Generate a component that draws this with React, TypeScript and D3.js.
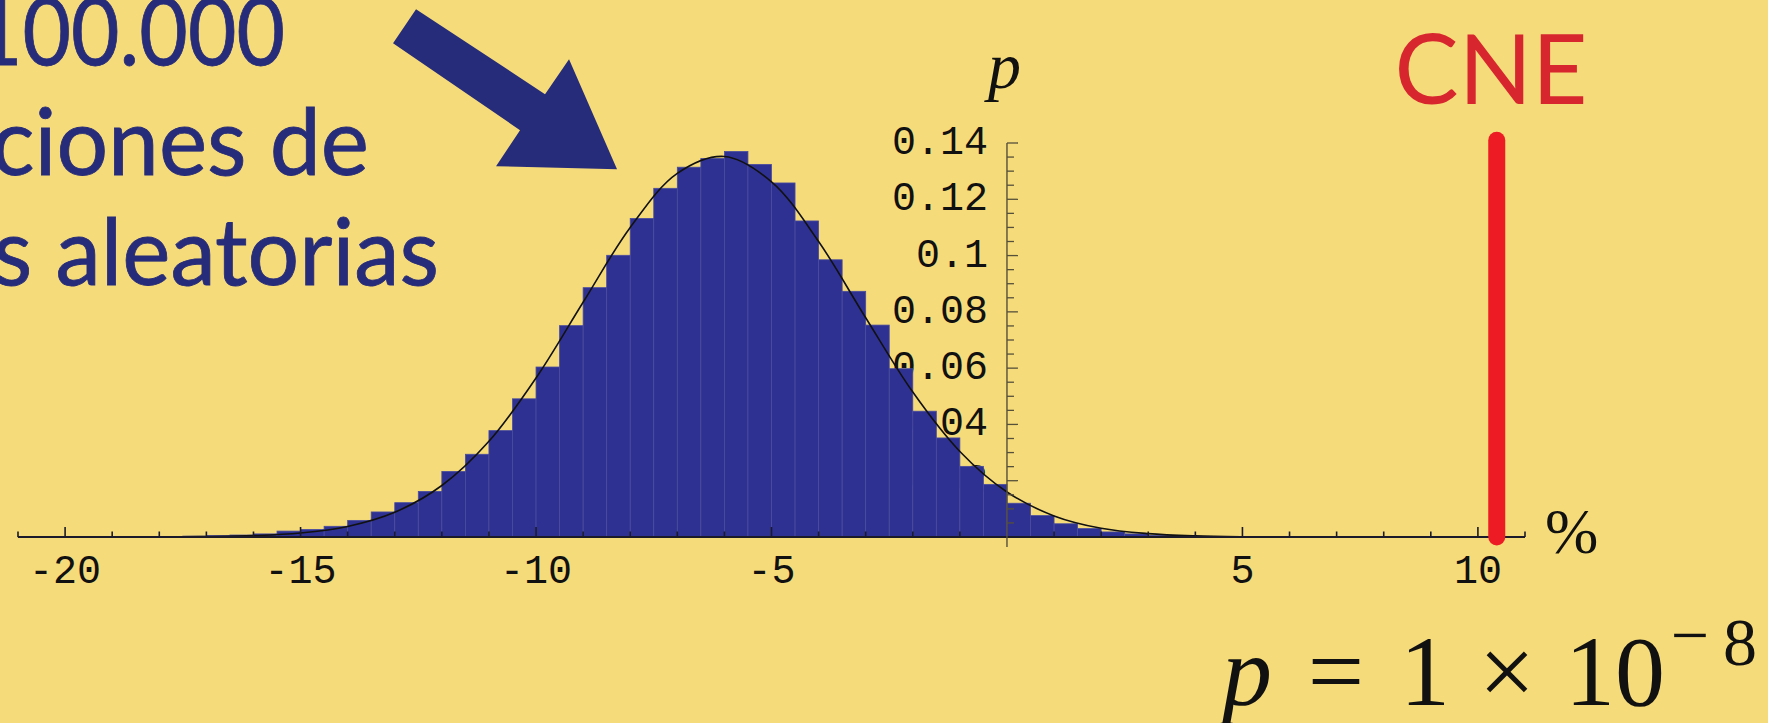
import * as d3 from "d3"
import { useEffect, useRef } from "react"

// histogram: lower edge of each 0.5-wide bin and its frequency
const binStarts = [
  -21, -20.5, -20, -19.5, -19, -18.5, -18, -17.5, -17, -16.5, -16, -15.5,
  -15, -14.5, -14, -13.5, -13, -12.5, -12, -11.5, -11, -10.5, -10, -9.5,
  -9, -8.5, -8, -7.5, -7, -6.5, -6, -5.5, -5, -4.5, -4, -3.5, -3, -2.5,
  -2, -1.5, -1, -0.5, 0, 0.5, 1, 1.5, 2, 2.5, 3, 3.5, 4, 4.5
]
const binValues = [
  0.00003, 0.00003, 0.00005, 0.00005, 0.0001, 0.0001, 0.0002, 0.0003, 0.0005, 0.0007, 0.0011, 0.0021,
  0.0027, 0.0038, 0.0059, 0.0089, 0.0122, 0.0162, 0.0233, 0.0294, 0.0378, 0.0491, 0.0604, 0.0751,
  0.0886, 0.1001, 0.1132, 0.1239, 0.1314, 0.1345, 0.137, 0.1324, 0.1258, 0.1123, 0.0985, 0.0873, 0.0753, 0.0598,
  0.0447, 0.0352, 0.0251, 0.0187, 0.012, 0.0076, 0.0047, 0.003, 0.0018, 0.0011, 0.0006, 0.0003, 0.0001, 0.00005
]

// fitted density curve
const curveX = [-21, -20, -19, -18, -17, -16, -15, -14, -13, -12, -11, -10, -9, -8, -7, -6, -5,
  -4, -3, -2, -1, 0, 1, 2, 3, 4, 5, 6, 7, 8, 9, 10, 11]
const curveY = [0, 0.000002, 0.00001, 0.00004, 0.00015, 0.00049, 0.00143, 0.00375, 0.00878, 0.0183,
  0.034, 0.0565, 0.0834, 0.11, 0.1292, 0.1352, 0.1262, 0.105, 0.0779, 0.0515, 0.0304, 0.016,
  0.0075, 0.0031, 0.0012, 0.0004, 0.0001, 0.00003, 0, 0, 0, 0, 0]

const xMajorTicks = [-20, -15, -10, -5, 5, 10]
const xTickLabels = ["-20", "-15", "-10", "-5", "5", "10"]
const xMinorTicks = [-21, -19, -18, -17, -16, -14, -13, -12, -11, -9, -8, -7, -6, -4, -3, -2, -1,
  1, 2, 3, 4, 6, 7, 8, 9, 11]
const yMajorTicks = [0.02, 0.04, 0.06, 0.08, 0.1, 0.12, 0.14]
const yTickLabels = ["0.02", "0.04", "0.06", "0.08", "0.1", "0.12", "0.14"]
const yMinorTicks = [0.005, 0.01, 0.015, 0.025, 0.03, 0.035, 0.045, 0.05, 0.055, 0.065, 0.07, 0.075,
  0.085, 0.09, 0.095, 0.105, 0.11, 0.115, 0.125, 0.13, 0.135]

// CNE result, in %
const cneValue = 10.4
const cneTop = 0.141

const titleLines = ["100.000", "simulaciones de", "encuestas aleatorias"]

export default function App() {
  const ref = useRef<SVGSVGElement>(null)

  useEffect(() => {
    const width = 1768, height = 723
    const svg = d3.select(ref.current)
    svg.selectAll("*").remove()

    const navy = "#272c7a"
    const barFill = "#2e3192"
    const mono = "'Liberation Mono', 'DejaVu Sans Mono', monospace"
    const serif = "'Liberation Serif', 'DejaVu Serif', serif"
    const sans = "Lato, 'Open Sans', sans-serif"

    const x = d3.scaleLinear().domain([-21, 11]).range([18, 1525])
    const y = d3.scaleLinear().domain([0, 0.14]).range([537, 143])

    // background
    svg.append("rect").attr("width", width).attr("height", height).attr("fill", "#f6db7a")

    // title text, cut off on the left like the slide
    // (digits are narrower than Lato's, lowercase about the same)
    const titleEnd = [285, 369, 439]
    const titleScale = [0.9, 0.98, 0.98]
    svg.append("g").selectAll("text").data(titleLines).enter().append("text")
      .attr("transform", (d, i) => "translate(" + titleEnd[i] + "," + (65 + i * 110) + ") scale(" + titleScale[i] + ",1)")
      .attr("text-anchor", "end")
      .attr("font-family", sans)
      .attr("font-size", 93)
      .attr("fill", navy)
      .attr("stroke", navy)
      .attr("stroke-width", 0.8)
      .text(d => d)

    // arrow pointing at the histogram
    const tipX = x(-8.28), tipY = y(0.1307)
    const arrow = [[-201, -160], [-72, -75], [-48, -110], [0, 0], [-121, -3], [-97, -39], [-224, -126]]
    svg.append("polygon")
      .attr("points", arrow.map(p => (tipX + p[0]) + "," + (tipY + p[1])).join(" "))
      .attr("fill", navy)

    // y tick labels sit underneath the bars
    svg.append("g").selectAll("text").data(yMajorTicks).enter().append("text")
      .attr("x", x(0) - 19)
      .attr("y", d => y(d) + 11)
      .attr("text-anchor", "end")
      .attr("font-family", mono)
      .attr("font-size", 40)
      .attr("fill", "#111")
      .text((d, i) => yTickLabels[i])

    // bars
    svg.append("g").selectAll("rect").data(binStarts).enter().append("rect")
      .attr("x", d => x(d))
      .attr("width", d => x(d + 0.5) - x(d))
      .attr("y", (d, i) => y(binValues[i]))
      .attr("height", (d, i) => y(0) - y(binValues[i]))
      .attr("fill", barFill)
      .attr("stroke", "#4a4c9e")
      .attr("stroke-width", 0.8)

    // density curve
    const line = d3.line<number>()
      .x(d => x(d))
      .y((d, i) => y(curveY[i]))
      .curve(d3.curveCatmullRom)
    svg.append("path")
      .attr("d", line(curveX))
      .attr("fill", "none")
      .attr("stroke", "#111")
      .attr("stroke-width", 1.6)

    // axes
    const axes = svg.append("g").attr("stroke", "#1a1a2a").attr("stroke-width", 1.6)
    axes.append("line")
      .attr("x1", x(-21)).attr("x2", x(11))
      .attr("y1", y(0)).attr("y2", y(0))
      .attr("stroke-width", 2.2)
    axes.append("line")
      .attr("x1", x(0)).attr("x2", x(0))
      .attr("y1", y(0) + 10).attr("y2", y(0.14))
      .attr("stroke", "#55503a")
      .attr("stroke-width", 1.4)

    axes.selectAll(".xmaj").data(xMajorTicks).enter().append("line")
      .attr("x1", d => x(d)).attr("x2", d => x(d))
      .attr("y1", y(0)).attr("y2", y(0) - 10)
    axes.selectAll(".xmin").data(xMinorTicks).enter().append("line")
      .attr("x1", d => x(d)).attr("x2", d => x(d))
      .attr("y1", y(0)).attr("y2", y(0) - 5.5)
    axes.selectAll(".ymaj").data(yMajorTicks).enter().append("line")
      .attr("x1", x(0)).attr("x2", x(0) + 11)
      .attr("y1", d => y(d)).attr("y2", d => y(d))
      .attr("stroke", "#55503a").attr("stroke-width", 1.3)
    axes.selectAll(".ymin").data(yMinorTicks).enter().append("line")
      .attr("x1", x(0)).attr("x2", x(0) + 7)
      .attr("y1", d => y(d)).attr("y2", d => y(d))
      .attr("stroke", "#55503a").attr("stroke-width", 1.3)

    svg.append("g").selectAll("text").data(xMajorTicks).enter().append("text")
      .attr("x", d => x(d))
      .attr("y", y(0) + 46)
      .attr("text-anchor", "middle")
      .attr("font-family", mono)
      .attr("font-size", 40)
      .attr("fill", "#111")
      .text((d, i) => xTickLabels[i])

    // CNE marker
    svg.append("line")
      .attr("x1", x(cneValue)).attr("x2", x(cneValue))
      .attr("y1", y(0)).attr("y2", y(cneTop))
      .attr("stroke", "#ed1c24")
      .attr("stroke-width", 17)
      .attr("stroke-linecap", "round")
    svg.append("text")
      .attr("x", 1491).attr("y", 104)
      .attr("text-anchor", "middle")
      .attr("font-family", sans)
      .attr("font-size", 96)
      .attr("fill", "#d8262f")
      .text("CNE")

    // axis labels
    svg.append("text")
      .attr("x", 988).attr("y", 88)
      .attr("font-family", serif).attr("font-style", "italic")
      .attr("font-size", 66).attr("fill", "#111")
      .text("p")
    svg.append("text")
      .attr("x", 1545).attr("y", 553)
      .attr("font-family", serif)
      .attr("font-size", 64).attr("fill", "#111")
      .text("%")

    // p-value
    const f = svg.append("g").attr("font-family", serif).attr("fill", "#111")
    f.append("text").attr("x", 1222).attr("y", 705).attr("font-style", "italic")
      .attr("font-size", 100).text("p")
    f.append("text").attr("x", 1336).attr("y", 705).attr("text-anchor", "middle")
      .attr("font-size", 100).text("=")
    f.append("text").attr("x", 1425).attr("y", 705).attr("text-anchor", "middle")
      .attr("font-size", 100).text("1")
    f.append("text").attr("x", 1507).attr("y", 705).attr("text-anchor", "middle")
      .attr("font-size", 100).text("×")
    f.append("text").attr("x", 1615).attr("y", 705).attr("text-anchor", "middle")
      .attr("font-size", 100).text("10")
    f.append("text").attr("x", 1690).attr("y", 658).attr("text-anchor", "middle")
      .attr("font-size", 68).text("−")
    f.append("text").attr("x", 1740).attr("y", 665).attr("text-anchor", "middle")
      .attr("font-size", 68).text("8")
  }, [])

  return (
    <svg ref={ref} width={1768} height={723}
      style={{ position: "absolute", left: 0, top: 0, display: "block" }} />
  )
}
